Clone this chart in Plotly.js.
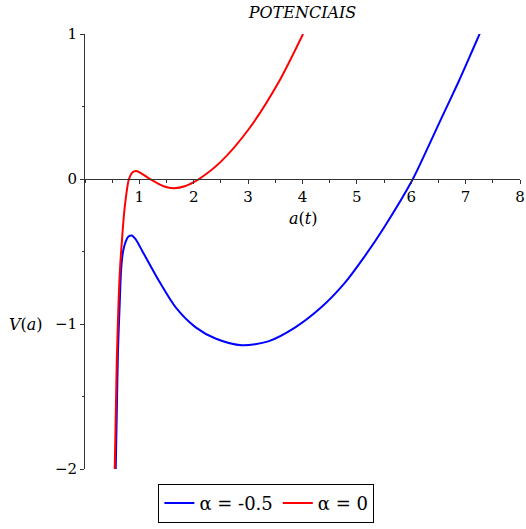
<!DOCTYPE html>
<html>
<head>
<meta charset="utf-8">
<script src="https://cdn.plot.ly/plotly-3.0.1.min.js"></script>
<style>
  html, body { margin: 0; padding: 0; background: #fff; }
  #chart { width: 526px; height: 529px; }
</style>
</head>
<body>
<div id="chart"></div>
<script>
// potenciais V(a)
const aBlue = [0.565, 0.585, 0.607, 0.638, 0.665, 0.70, 0.75, 0.80, 0.862, 0.93, 1.063, 1.367, 1.672, 2.036, 2.40, 2.886, 3.37, 3.86, 4.345, 4.77, 5.136, 5.50, 6.03, 6.26, 6.56, 6.87, 7.11, 7.28];
const vBlue = [-2.0, -1.60, -1.18, -0.865, -0.62, -0.50, -0.43, -0.397, -0.39, -0.415, -0.503, -0.707, -0.887, -1.023, -1.10, -1.147, -1.12, -1.025, -0.885, -0.72, -0.537, -0.334, 0.0, 0.18, 0.423, 0.671, 0.874, 1.02];

const aRed = [0.547, 0.583, 0.638, 0.68, 0.729, 0.808, 0.87, 0.943, 1.05, 1.216, 1.446, 1.64, 1.85, 2.0, 2.10, 2.5, 3.01, 3.55, 4.01];
const vRed = [-2.0, -1.28, -0.66, -0.42, -0.20, 0.0, 0.045, 0.055, 0.035, -0.005, -0.05, -0.063, -0.048, -0.022, 0.0, 0.12, 0.343, 0.66, 1.0];

const xTicks = [1, 2, 3, 4, 5, 6, 7, 8];
const yTicks = [-2, -1, 0, 1];

const serif = 'DejaVu Serif';
const axisColor = '#333333';

const traces = [
    {
        x: aBlue, y: vBlue, type: 'scatter', mode: 'lines',
        name: 'α = -0.5',
        line: { color: '#0000ff', width: 2, shape: 'spline', smoothing: 0.8 },
    },
    {
        x: aRed, y: vRed, type: 'scatter', mode: 'lines',
        name: 'α = 0',
        line: { color: '#ff0000', width: 2, shape: 'spline', smoothing: 0.8 },
    },
];

const layout = {
    width: 526, height: 529,
    margin: { l: 85, r: 6, t: 34, b: 52 },
    paper_bgcolor: '#ffffff', plot_bgcolor: '#ffffff',
    font: { family: serif, size: 15, color: '#000' },
    title: {
        text: '<i>POTENCIAIS</i>',
        font: { family: serif, size: 16, color: '#000' },
        xref: 'paper', x: 0.5, xanchor: 'center',
        yref: 'container', y: 0.977, yanchor: 'middle',
    },
    xaxis: {
        range: [0, 8],
        anchor: 'free', position: 2 / 3,
        showline: true, linecolor: axisColor, linewidth: 1,
        showgrid: false, zeroline: false,
        tickmode: 'array', tickvals: xTicks,
        ticks: 'outside', ticklen: 4, tickcolor: axisColor,
        minor: { dtick: 0.5, ticks: 'outside', ticklen: 3, tickcolor: axisColor, showgrid: false },
        tickfont: { family: serif, size: 15 },
        ticklabeloverflow: 'allow',
        fixedrange: true,
    },
    yaxis: {
        range: [-2, 1],
        showline: true, linecolor: axisColor, linewidth: 1,
        showgrid: false, zeroline: false,
        tickmode: 'array', tickvals: yTicks,
        ticks: 'outside', ticklen: 4, tickcolor: axisColor,
        minor: { dtick: 0.5, ticks: 'outside', ticklen: 2, tickcolor: axisColor, showgrid: false },
        tickfont: { family: serif, size: 15 },
        fixedrange: true,
    },
    showlegend: true,
    legend: {
        orientation: 'h',
        x: 0.417, xanchor: 'center', xref: 'paper',
        y: -0.034, yanchor: 'top',
        bordercolor: '#000', borderwidth: 1,
        font: { family: serif, size: 18, color: '#000' },
        bgcolor: '#fff',
    },
    annotations: [
        {
            text: '<i>a</i>(<i>t</i>)', xref: 'x', yref: 'y', x: 4, y: -0.27,
            showarrow: false, font: { family: serif, size: 16 },
        },
        {
            text: '<i>V</i>(<i>a</i>)', xref: 'paper', yref: 'y', x: -0.135, y: -1.0,
            xanchor: 'center', showarrow: false, font: { family: serif, size: 16 },
        },
    ],
};

Plotly.newPlot('chart', traces, layout, { displayModeBar: false, staticPlot: true });
</script>
</body>
</html>
